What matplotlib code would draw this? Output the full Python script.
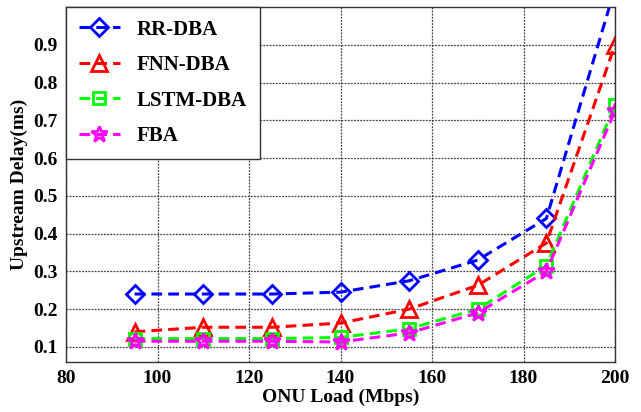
import numpy as np
import matplotlib
matplotlib.use('Agg')
from matplotlib import pyplot as plt

# ONU load (Mbps)
load = [95, 110, 125, 140, 155, 170, 185, 200]

# upstream delay (ms)
rr_dba = [0.240, 0.240, 0.240, 0.245, 0.275, 0.330, 0.440, 1.05]
fnn_dba = [0.140, 0.152, 0.152, 0.163, 0.200, 0.263, 0.375, 0.900]
lstm_dba = [0.122, 0.122, 0.122, 0.125, 0.148, 0.200, 0.315, 0.740]
fba = [0.115, 0.115, 0.115, 0.113, 0.137, 0.190, 0.300, 0.725]

plt.rcParams['font.family'] = ['Liberation Serif', 'DejaVu Serif']
plt.rcParams['font.weight'] = 'bold'

fig = plt.figure(figsize=(6.41, 4.12), dpi=100)
ax = fig.add_axes([66/641, 1-362/412, (615-66)/641, (362-7)/412])

kw = dict(linestyle=(0, (3.5, 2)), linewidth=2.2, markerfacecolor='none', markeredgewidth=2)
ax.plot(load, rr_dba, color='#0000ff', marker='D', markersize=9, label='RR-DBA', **kw)
ax.plot(load, fnn_dba, color='#ff0000', marker='^', markersize=12, label='FNN-DBA', **kw)
ax.plot(load, lstm_dba, color='#00ff00', marker='s', markersize=9, label='LSTM-DBA', **kw)
ax.plot(load, fba, color='#ff00ff', marker='*', markersize=12, label='FBA', **kw)

ax.set_xlim(80, 200)
ax.set_ylim(0.06, 1.0)
ax.set_xticks(np.arange(80, 201, 20))
ax.set_yticks(np.arange(0.1, 0.95, 0.1))
ax.set_yticklabels(['%.1f' % v for v in np.arange(0.1, 0.95, 0.1)])
ax.tick_params(labelsize=14, direction='in', length=0, pad=6)
for lab in ax.get_xticklabels() + ax.get_yticklabels():
    lab.set_fontweight('bold')
ax.grid(True, color='#444444', linestyle=(0, (1.5, 1)), linewidth=0.9)
for s in ax.spines.values():
    s.set_linewidth(1.0)
    s.set_color('#333333')

ax.set_xlabel('ONU Load (Mbps)', fontsize=14, fontweight='bold', labelpad=1)
ax.set_ylabel('Upstream Delay(ms)', fontsize=14, fontweight='bold', labelpad=4)

leg = ax.legend(loc='upper left', fontsize=15, frameon=True, fancybox=False,
                edgecolor='#333333', borderaxespad=0, handlelength=2.0,
                labelspacing=0.75, borderpad=0.6, framealpha=1)
leg.get_frame().set_linewidth(1.0)

fig.savefig('out.png', dpi=100)
